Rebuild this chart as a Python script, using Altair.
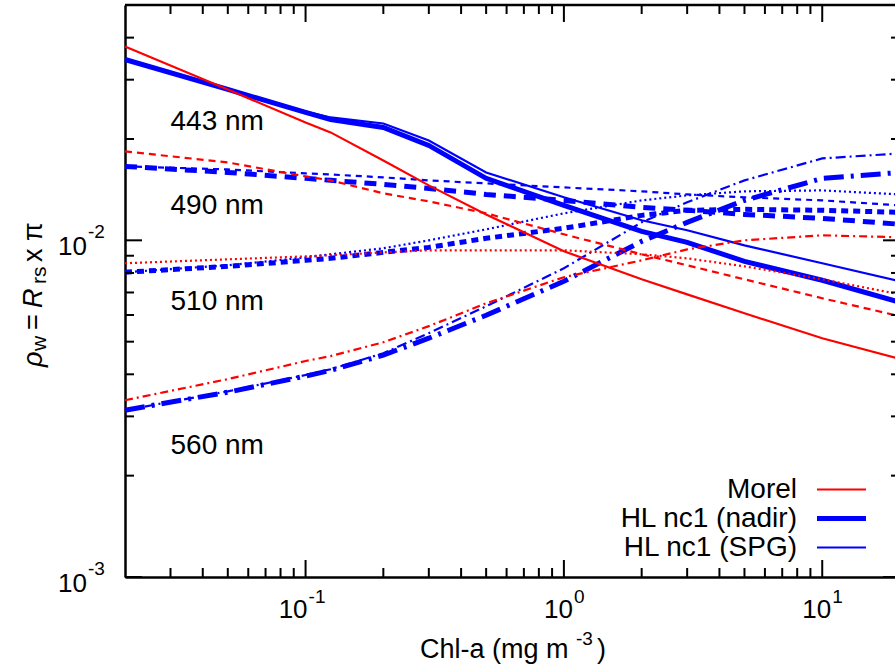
import altair as alt
import pandas as pd

# ---------------- data ----------------
chl = [0.02, 0.05, 0.1, 0.125, 0.2, 0.3, 0.5, 1, 2, 3, 5, 10, 20]

morel_443 = [0.03764, 0.02806, 0.02239, 0.02092, 0.01727, 0.01456, 0.01194, 0.00928, 0.00766, 0.00691, 0.00607, 0.00512, 0.00444]
nadir_443 = [0.03444, 0.02806, 0.02398, 0.02286, 0.02164, 0.01914, 0.01528, 0.01270, 0.01063, 0.00986, 0.00866, 0.00761, 0.00655]
spg_443 = [0.03444, 0.02806, 0.02414, 0.02317, 0.02224, 0.01980, 0.01591, 0.01342, 0.01147, 0.01071, 0.00966, 0.00855, 0.00756]

morel_490 = [0.01837, 0.01704, 0.01548, 0.01507, 0.01379, 0.01305, 0.01203, 0.01042, 0.00909, 0.00843, 0.00766, 0.00673, 0.00595]
nadir_490 = [0.01658, 0.01591, 0.01528, 0.01507, 0.01466, 0.01426, 0.01369, 0.01314, 0.01253, 0.01228, 0.01194, 0.01162, 0.01116]
spg_490 = [0.01658, 0.01624, 0.01580, 0.01569, 0.01538, 0.01507, 0.01476, 0.01436, 0.01398, 0.01369, 0.01342, 0.01314, 0.01270]

morel_510 = [0.00855, 0.00878, 0.00896, 0.00903, 0.00921, 0.00934, 0.00934, 0.00934, 0.00909, 0.00884, 0.00837, 0.00766, 0.00691]
nadir_510 = [0.00804, 0.00837, 0.00872, 0.00884, 0.00921, 0.00953, 0.01014, 0.01086, 0.01186, 0.01228, 0.01236, 0.01228, 0.01211]
spg_510 = [0.00804, 0.00843, 0.00890, 0.00909, 0.00947, 0.01000, 0.01078, 0.01203, 0.01314, 0.01360, 0.01398, 0.01407, 0.01369]

morel_560 = [0.00335, 0.00387, 0.00438, 0.00453, 0.00498, 0.00556, 0.00650, 0.00777, 0.00872, 0.00940, 0.01000, 0.01035, 0.01021]
nadir_560 = [0.00313, 0.00354, 0.00395, 0.00411, 0.00456, 0.00512, 0.00599, 0.00756, 0.00993, 0.01131, 0.01314, 0.01528, 0.01591]
spg_560 = [0.00313, 0.00356, 0.00398, 0.00414, 0.00462, 0.00530, 0.00637, 0.00826, 0.01131, 0.01297, 0.01507, 0.01751, 0.01812]

wavelength_labels = ["443 nm", "490 nm", "510 nm", "560 nm"]
wavelength_label_chl = [0.03, 0.03, 0.03, 0.03]
wavelength_label_rho = [0.0212, 0.0120, 0.0062, 0.00232]

legend_labels = ["Morel", "HL nc1 (nadir)", "HL nc1 (SPG)"]

x_major = [0.1, 1, 10]
x_major_exp = ["-1", "0", "1"]
x_minor = [0.03, 0.04, 0.05, 0.06, 0.07, 0.08, 0.09,
           0.2, 0.3, 0.4, 0.5, 0.6, 0.7, 0.8, 0.9,
           2, 3, 4, 5, 6, 7, 8, 9]
y_major = [0.001, 0.01]
y_major_exp = ["-3", "-2"]
y_minor = [0.002, 0.003, 0.004, 0.005, 0.006, 0.007, 0.008, 0.009, 0.02, 0.03, 0.04]

# ---------------- layout / style ----------------
FONT = "Liberation Sans"
RED = "#ff0000"
BLUE = "#0000ff"
W = 770          # visible part of the plot area
XR = 775         # full plot-area width (right border falls outside the picture)
H = 572
MAJ = 17
MIN = 9
THIN = 2.2
THICK = 5

x_scale = alt.Scale(type="log", domain=[0.02, 20], range=[0, XR])
y_scale = alt.Scale(type="log", domain=[0.001, 0.05])
x_axis = alt.Axis(domain=True, domainColor="black", domainWidth=2.5, ticks=False,
                  labels=False, grid=False, title=None)
y_axis = alt.Axis(domain=True, domainColor="black", domainWidth=2.5, ticks=False,
                  labels=False, grid=False, title=None)

X = lambda f: alt.X(f, type="quantitative", scale=x_scale, axis=x_axis)
Y = lambda f: alt.Y(f, type="quantitative", scale=y_scale, axis=y_axis)

one = pd.DataFrame({"a": [0]})
layers = []

# ---- curves: (values, colour, width, dash) ----
curves = [
    (nadir_443, BLUE, THICK, None), (nadir_490, BLUE, THICK, [12, 8]),
    (nadir_510, BLUE, THICK, [7, 5]), (nadir_560, BLUE, THICK, [20, 7, 3, 7]),
    (spg_443, BLUE, THIN, None), (spg_490, BLUE, THIN, [6, 5]),
    (spg_510, BLUE, THIN, [2, 3]), (spg_560, BLUE, THIN, [10, 4, 2, 4]),
    (morel_443, RED, THIN, None), (morel_490, RED, THIN, [7, 5]),
    (morel_510, RED, THIN, [2, 3]), (morel_560, RED, THIN, [8, 4, 2, 4]),
]
for vals, col, sw, dash in curves:
    df = pd.DataFrame({"chl": chl, "rho": vals})
    kw = dict(color=col, strokeWidth=sw)
    if dash:
        kw["strokeDash"] = dash
    layers.append(alt.Chart(df).mark_line(**kw).encode(x=X("chl"), y=Y("rho")))

# ---- border (top) ----
layers.append(alt.Chart(one).mark_rule(color="black", strokeWidth=2.5).encode(
    x=alt.value(0), x2=alt.value(XR), y=alt.value(0)))

# ---- inward ticks on all four sides ----
for vals, ln in [(x_major, MAJ), (x_minor, MIN)]:
    d = pd.DataFrame({"v": vals})
    layers.append(alt.Chart(d).mark_rule(color="black", strokeWidth=2).encode(
        x=X("v"), y=alt.value(H), y2=alt.value(H - ln)))
    layers.append(alt.Chart(d).mark_rule(color="black", strokeWidth=2).encode(
        x=X("v"), y=alt.value(0), y2=alt.value(ln)))
for vals, ln in [(y_major, MAJ), (y_minor, MIN)]:
    d = pd.DataFrame({"v": vals})
    layers.append(alt.Chart(d).mark_rule(color="black", strokeWidth=2).encode(
        y=Y("v"), x=alt.value(0), x2=alt.value(ln)))
    layers.append(alt.Chart(d).mark_rule(color="black", strokeWidth=2).encode(
        y=Y("v"), x=alt.value(XR), x2=alt.value(XR - ln)))

# ---- tick labels 10^n ----
for v, e in zip(x_major, x_major_exp):
    d = pd.DataFrame({"v": [v]})
    dxb = 9 if len(e) == 1 else 2
    layers.append(alt.Chart(d).mark_text(text="10", align="right", baseline="alphabetic",
                                         dx=dxb, font=FONT, fontSize=26, color="black").encode(
        x=X("v"), y=alt.value(H + 41)))
    layers.append(alt.Chart(d).mark_text(text=e, align="left", baseline="alphabetic",
                                         dx=dxb + 1, font=FONT, fontSize=19, color="black").encode(
        x=X("v"), y=alt.value(H + 26)))

dy_lab = pd.DataFrame({"v": y_major, "e": y_major_exp})
layers.append(alt.Chart(dy_lab).mark_text(text="10", align="right", baseline="alphabetic",
                                          dy=15, font=FONT, fontSize=26, color="black").encode(
    y=Y("v"), x=alt.value(-38)))
layers.append(alt.Chart(dy_lab).mark_text(align="left", baseline="alphabetic",
                                          dy=-2, font=FONT, fontSize=19, color="black").encode(
    y=Y("v"), x=alt.value(-37), text="e:N"))

# ---- text helper ----
def txt(s, x, y, size=27, style="normal", angle=0, align="left"):
    kw = dict(text=s, align=align, baseline="alphabetic", font=FONT, fontSize=size,
              fontStyle=style, color="black")
    if angle:
        kw["angle"] = angle
    return alt.Chart(one).mark_text(**kw).encode(x=alt.value(x), y=alt.value(y))

# ---- x axis title: Chl-a (mg m^-3) ----
layers.append(txt("Chl-a (mg m", 295, 653))
layers.append(txt("-3", 451, 640, size=19))
layers.append(txt(")", 472, 653))

# ---- y axis title: rho_w = R_rs x pi (rotated) ----
layers.append(txt("\u03c1", -83, 362, style="italic", angle=270))
layers.append(txt("w", -79, 346, size=21, angle=270))
layers.append(txt("=", -83, 325, angle=270))
layers.append(txt("R", -83, 303, style="italic", angle=270))
layers.append(txt("rs", -79, 279, size=21, angle=270))
layers.append(txt("x \u03c0", -83, 257, angle=270))

# ---- wavelength annotations ----
dwl = pd.DataFrame({"c": wavelength_label_chl, "r": wavelength_label_rho, "t": wavelength_labels})
layers.append(alt.Chart(dwl).mark_text(align="left", baseline="alphabetic", font=FONT,
                                       fontSize=28, color="black").encode(
    x=X("c"), y=Y("r"), text="t:N"))

# ---- legend ----
leg_styles = [(RED, THIN), (BLUE, THICK), (BLUE, THIN)]
for i, (lab, (col, sw)) in enumerate(zip(legend_labels, leg_styles)):
    base = 493 + i * 29
    layers.append(txt(lab, 672, base, size=28, align="right"))
    layers.append(alt.Chart(one).mark_rule(color=col, strokeWidth=sw).encode(
        x=alt.value(692), x2=alt.value(741), y=alt.value(base - 8.5)))

chart = alt.layer(*layers).properties(
    width=W, height=H,
    autosize=alt.AutoSizeParams(type="none"),
    padding={"left": 125, "top": 5, "right": 0, "bottom": 93},
    background="white",
).configure_view(stroke=None)

chart.save("out.html", embed_options={"renderer": "svg", "actions": False})
